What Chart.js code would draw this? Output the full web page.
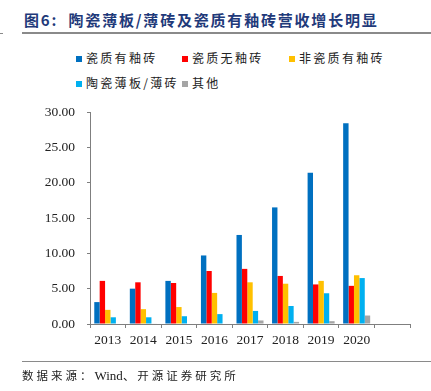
<!DOCTYPE html>
<html><head><meta charset="utf-8">
<script src="https://cdn.jsdelivr.net/npm/chart.js@4/dist/chart.umd.min.js"></script>
<style>
html,body{margin:0;padding:0;background:#fff;width:431px;height:391px;overflow:hidden;position:relative;font-family:"Liberation Serif","Noto Sans CJK SC",serif;}
#title{position:absolute;left:24px;top:9px;font-family:"Noto Sans CJK SC",sans-serif;font-weight:bold;font-size:15px;color:#1F3A7A;letter-spacing:1.8px;white-space:nowrap;}
#tl{position:absolute;left:22px;top:32px;width:409px;height:2px;background:#8a8a8a;}
#dash{position:absolute;left:0;top:33px;width:3px;height:1px;background:#8a8a8a;}
#bl{position:absolute;left:22px;top:361px;width:409px;height:1px;background:#8a8a8a;}
#src{position:absolute;left:22px;top:367px;font-family:"Noto Sans CJK SC",sans-serif;font-size:11.5px;color:#222;letter-spacing:3px;white-space:nowrap;}
#src .w{font-family:"Liberation Serif",serif;font-size:13px;letter-spacing:0;}
.lg{position:absolute;font-family:"Noto Sans CJK SC",sans-serif;font-size:12px;color:#222;letter-spacing:2.3px;white-space:nowrap;line-height:14px;}
.lg i{display:inline-block;width:6px;height:6px;margin-right:4px;vertical-align:1px;}
#c{position:absolute;left:0;top:0;}
</style></head><body>
<div id="title">图6:&nbsp; 陶瓷薄板/薄砖及瓷质有釉砖营收增长明显</div>
<div id="dash"></div><div id="tl"></div>
<div id="legend"></div>
<canvas id="c" width="431" height="391"></canvas>
<div id="bl"></div>
<div id="src">数据来源：<span class="w">Wind</span>、开源证券研究所</div>
<script>
const categories = ['2013','2014','2015','2016','2017','2018','2019','2020',''];
const seriesNames = ['瓷质有釉砖','瓷质无釉砖','非瓷质有釉砖','陶瓷薄板/薄砖','其他'];
const glazedPorcelain = [3.1, 5.0, 6.1, 9.7, 12.6, 16.5, 21.4, 28.4, null];
const unglazedPorcelain = [6.1, 5.9, 5.8, 7.5, 7.8, 6.8, 5.6, 5.4, null];
const glazedNonPorcelain = [2.0, 2.1, 2.4, 4.4, 5.9, 5.7, 6.1, 6.9, null];
const thinSlab = [0.95, 0.95, 1.1, 1.4, 1.85, 2.55, 4.35, 6.5, null];
const others = [0.0, 0.08, 0.0, 0.0, 0.5, 0.3, 0.4, 1.2, null];
const yTicks = [0, 5, 10, 15, 20, 25, 30];
const colors = ['#0070C0','#FF0000','#FFC000','#00B0F0','#A5A5A5'];
const values = [glazedPorcelain, unglazedPorcelain, glazedNonPorcelain, thinSlab, others];

// HTML legend
const legPos = [[76,51],[182,51],[289,51],[76,76],[182,76]];
const lg = document.getElementById('legend');
seriesNames.forEach((n,i)=>{
  const d=document.createElement('div');d.className='lg';
  d.style.left=legPos[i][0]+'px';d.style.top=legPos[i][1]+'px';
  d.innerHTML='<i style="background:'+colors[i]+'"></i>'+n;
  lg.appendChild(d);
});

const tickFont = {family:'"Liberation Serif","Times New Roman",serif', size:13.5};
new Chart(document.getElementById('c'), {
  type:'bar',
  data:{labels:categories, datasets: seriesNames.map((n,i)=>({label:n, data:values[i], backgroundColor:colors[i], borderWidth:0}))},
  options:{
    responsive:false, animation:false,
    layout:{padding:{top:112,right:21,left:0,bottom:0}},
    plugins:{legend:{display:false}, tooltip:{enabled:false}},
    datasets:{bar:{categoryPercentage:0.76, barPercentage:1}},
    scales:{
      x:{
        offset:true,
        grid:{display:true, offset:true, drawOnChartArea:false, drawTicks:true, tickLength:4, color:'#7f7f7f'},
        border:{display:true, color:'#7f7f7f', width:1},
        ticks:{color:'#222', font:tickFont, padding:4, maxRotation:0, autoSkip:false},
        afterFit:(s)=>{s.height=67;}
      },
      y:{
        min:0, max:30,
        afterBuildTicks:(s)=>{s.ticks=yTicks.map(v=>({value:v}));},
        grid:{display:true, drawOnChartArea:false, drawTicks:true, tickLength:3, color:'#7f7f7f'},
        border:{display:true, color:'#7f7f7f', width:1},
        ticks:{color:'#222', font:tickFont, padding:12, callback:(v)=>Number(v).toFixed(2)},
        afterFit:(s)=>{s.width=90;}
      }
    }
  }
});
</script>
</body></html>
